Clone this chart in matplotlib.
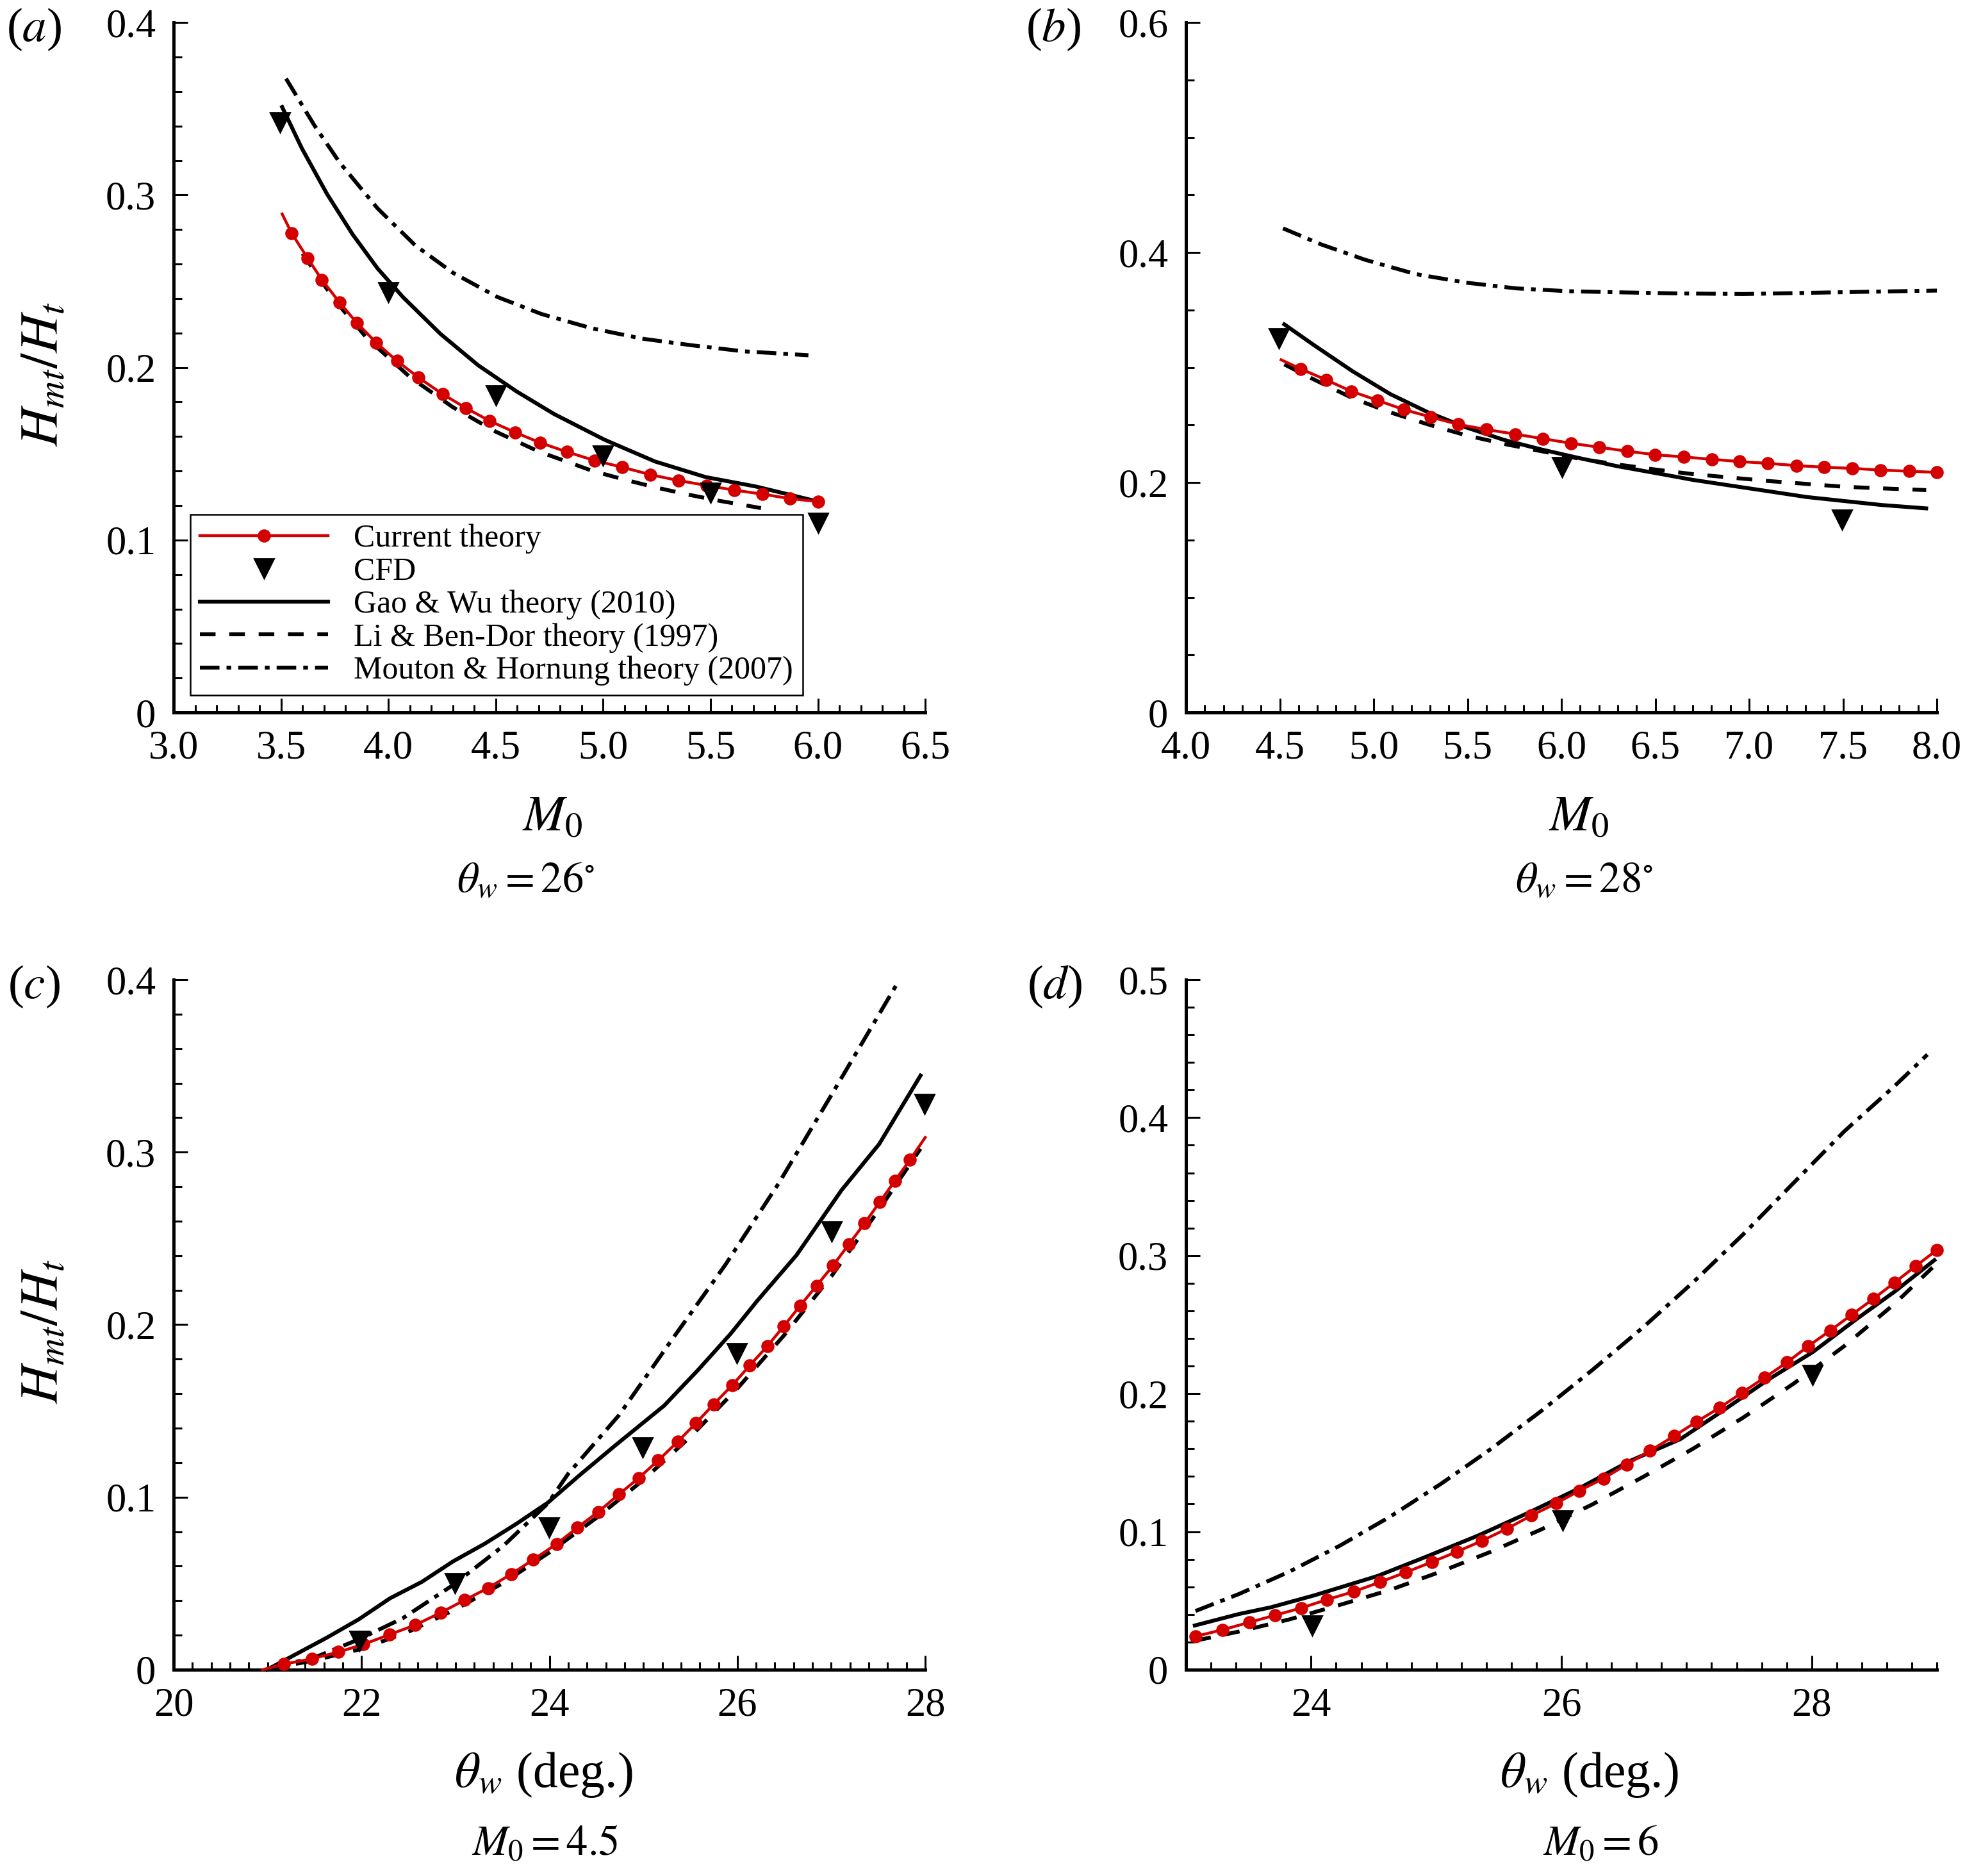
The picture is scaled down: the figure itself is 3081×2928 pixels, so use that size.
import numpy as np
import matplotlib
matplotlib.use('Agg')
import matplotlib.pyplot as plt
from matplotlib.ticker import MultipleLocator, AutoMinorLocator, FuncFormatter

plt.rcParams['font.family'] = 'serif'
plt.rcParams['font.serif'] = ['Liberation Serif', 'DejaVu Serif']
plt.rcParams['mathtext.fontset'] = 'stix'

# ---- panel (a): theta_w = 26 deg, H_mt/H_t vs M0
a_cur_M = [3.505, 3.55, 3.623, 3.69, 3.773, 3.852, 3.943, 4.04, 4.14, 4.252, 4.36, 4.472,
           4.59, 4.707, 4.831, 4.96, 5.089, 5.22, 5.35, 5.483, 5.612, 5.742, 5.871, 6.0]
a_cur_H = [0.289, 0.2777, 0.2635, 0.2509, 0.2376, 0.226, 0.2144, 0.2038, 0.1942, 0.1846, 0.1766, 0.169,
           0.1624, 0.1564, 0.1511, 0.1461, 0.1422, 0.1379, 0.1345, 0.1316, 0.1289, 0.1266, 0.124, 0.1223]
a_gw_M = [3.505, 3.597, 3.714, 3.832, 3.949, 4.067, 4.243, 4.419, 4.596, 4.772, 5.007, 5.242, 5.477, 5.712, 5.99]
a_gw_H = [0.351, 0.327, 0.3006, 0.2774, 0.2575, 0.2409, 0.2194, 0.2012, 0.1862, 0.173, 0.1581, 0.1455, 0.1365, 0.131, 0.1226]
a_lb_M = [3.6, 3.75, 3.9, 4.1, 4.3, 4.5, 4.7, 4.952, 5.1, 5.244, 5.393, 5.542, 5.735]
a_lb_H = [0.266, 0.239, 0.217, 0.1945, 0.177, 0.1628, 0.1513, 0.14, 0.135, 0.1305, 0.1264, 0.1227, 0.1185]
a_mh_M = [3.523, 3.655, 3.773, 3.949, 4.125, 4.302, 4.507, 4.713, 4.948, 5.183, 5.418, 5.653, 5.956]
a_mh_H = [0.3675, 0.3404, 0.3188, 0.2923, 0.2708, 0.2548, 0.2409, 0.231, 0.2227, 0.2167, 0.2128, 0.2094, 0.2071]
a_cfd_M = [3.494, 4.0, 4.5, 5.0, 5.5, 6.0]
a_cfd_H = [0.342, 0.2436, 0.184, 0.1488, 0.1276, 0.110]

# ---- panel (b): theta_w = 28 deg
b_cur_M = [4.507, 4.611, 4.746, 4.88, 5.021, 5.159, 5.303, 5.451, 5.599, 5.753, 5.901, 6.052, 6.2,
           6.351, 6.499, 6.65, 6.801, 6.949, 7.1, 7.251, 7.399, 7.55, 7.701, 7.852, 8.0]
b_cur_H = [0.3067, 0.2988, 0.2893, 0.2794, 0.2714, 0.2635, 0.257, 0.2505, 0.2461, 0.2421, 0.2381, 0.2341, 0.2307,
           0.2272, 0.2242, 0.2222, 0.2202, 0.2182, 0.2167, 0.2147, 0.2133, 0.2123, 0.2108, 0.2098, 0.2088]
b_gw_M = [4.524, 4.685, 4.887, 5.088, 5.29, 5.491, 5.693, 5.894, 6.096, 6.297, 6.499, 6.7, 6.902, 7.103,
          7.305, 7.506, 7.708, 7.943]
b_gw_H = [0.3375, 0.3191, 0.2968, 0.2769, 0.261, 0.248, 0.2371, 0.2287, 0.2212, 0.2142, 0.2083, 0.2023, 0.1973,
          0.1924, 0.1874, 0.1839, 0.1804, 0.1775]
b_lb_M = [4.524, 4.685, 4.887, 5.088, 5.29, 5.491, 5.693, 5.894, 6.096, 6.297, 6.499, 6.7, 6.902, 7.103,
          7.305, 7.506, 7.708, 7.943]
b_lb_H = [0.3027, 0.2893, 0.2734, 0.261, 0.2505, 0.2411, 0.2336, 0.2272, 0.2207, 0.2157, 0.2113, 0.2073, 0.2043,
          0.2013, 0.1988, 0.1963, 0.1949, 0.1934]
b_mh_M = [4.517, 4.719, 4.954, 5.222, 5.491, 5.76, 6.029, 6.297, 6.633, 6.969, 7.305, 7.641, 8.0]
b_mh_H = [0.421, 0.4071, 0.3937, 0.3813, 0.3738, 0.3688, 0.3664, 0.3654, 0.3644, 0.3639, 0.3649, 0.3659, 0.3669]
b_cfd_M = [4.494, 6.002, 7.496]
b_cfd_H = [0.3256, 0.2133, 0.1675]

# ---- panel (c): M0 = 4.5, H_mt/H_t vs theta_w
c_cur_t = [20.947, 21.175, 21.471, 21.753, 22.021, 22.297, 22.572, 22.841, 23.096, 23.345, 23.593, 23.828,
           24.077, 24.298, 24.52, 24.741, 24.95, 25.158, 25.366, 25.561, 25.749, 25.944, 26.132, 26.32,
           26.494, 26.669, 26.844, 27.018, 27.186, 27.354, 27.515, 27.676, 27.837, 28.0]
c_cur_H = [0.0, 0.0032, 0.0063, 0.0102, 0.0147, 0.0203, 0.0259, 0.033, 0.0403, 0.0473, 0.0554, 0.0638,
           0.0729, 0.0824, 0.0915, 0.1017, 0.1111, 0.1213, 0.1322, 0.143, 0.1539, 0.1648, 0.1763, 0.1876,
           0.1991, 0.211, 0.2226, 0.2342, 0.2465, 0.2587, 0.271, 0.2833, 0.2955, 0.3085]
c_gw_t = [20.994, 21.296, 21.632, 21.968, 22.304, 22.639, 22.975, 23.311, 23.647, 23.983, 24.34, 24.71,
          25.22, 25.585, 25.93, 26.21, 26.63, 27.11, 27.51, 27.95]
c_gw_H = [0.0, 0.0088, 0.0186, 0.0291, 0.0414, 0.0508, 0.0628, 0.073, 0.0845, 0.0968, 0.1136, 0.1304,
          0.153, 0.1739, 0.1948, 0.2137, 0.2403, 0.278, 0.3047, 0.3444]
c_lb_t = [20.994, 21.5, 22.0, 22.5, 23.0, 23.5, 24.0, 24.5, 25.0, 25.5, 26.0, 26.5, 27.0, 27.5, 27.95]
c_lb_H = [0.0, 0.0055, 0.012, 0.022, 0.035, 0.050, 0.068, 0.088, 0.110, 0.135, 0.163, 0.194, 0.228, 0.266, 0.302]
c_mh_t = [21.027, 21.498, 21.968, 22.438, 22.975, 23.512, 23.983, 24.2, 24.74, 25.3, 25.87, 26.44, 27.0, 27.71]
c_mh_H = [0.001, 0.007, 0.0175, 0.0298, 0.0491, 0.0719, 0.0964, 0.1136, 0.1475, 0.191, 0.2345, 0.2819, 0.333, 0.3985]
c_cfd_t = [21.98, 22.995, 23.996, 24.99, 25.997, 27.005, 27.992]
c_cfd_H = [0.0168, 0.0501, 0.0824, 0.1287, 0.1833, 0.2542, 0.3278]

# ---- panel (d): M0 = 6
d_cur_t = [23.076, 23.292, 23.504, 23.71, 23.922, 24.128, 24.34, 24.552, 24.758, 24.965, 25.166, 25.363,
           25.564, 25.761, 25.957, 26.144, 26.335, 26.521, 26.708, 26.899, 27.081, 27.262, 27.443, 27.625,
           27.801, 27.972, 28.149, 28.32, 28.491, 28.662, 28.829, 29.0]
d_cur_H = [0.0241, 0.0289, 0.0342, 0.0394, 0.0447, 0.0508, 0.0565, 0.0635, 0.0706, 0.078, 0.0855, 0.0933,
           0.1021, 0.1117, 0.1205, 0.1297, 0.1385, 0.1486, 0.1586, 0.1692, 0.1797, 0.1897, 0.2007, 0.2117,
           0.2226, 0.2344, 0.2458, 0.2572, 0.2686, 0.2805, 0.2923, 0.3041]
d_gw_t = [23.071, 23.423, 23.675, 24.028, 24.532, 24.935, 25.338, 25.741, 26.144, 26.547, 26.95, 27.302,
          27.655, 28.008, 28.36, 28.662, 28.98]
d_gw_H = [0.032, 0.0403, 0.0451, 0.0539, 0.0679, 0.0824, 0.0973, 0.1139, 0.1315, 0.1512, 0.167, 0.1884,
          0.2103, 0.2301, 0.2542, 0.2739, 0.2967]
d_lb_t = [23.076, 23.423, 23.826, 24.229, 24.632, 25.035, 25.438, 25.841, 26.244, 26.647, 27.05, 27.453,
          27.856, 28.259, 28.662, 28.965]
d_lb_H = [0.021, 0.0276, 0.0364, 0.0469, 0.0578, 0.071, 0.0855, 0.1017, 0.1196, 0.1394, 0.16, 0.1827,
          0.2073, 0.2344, 0.2651, 0.2914]
d_mh_t = [23.076, 23.423, 23.826, 24.229, 24.632, 25.035, 25.438, 25.841, 26.244, 26.647, 27.05, 27.453,
          27.856, 28.259, 28.662, 28.924]
d_mh_H = [0.0425, 0.0548, 0.071, 0.0898, 0.1109, 0.1345, 0.16, 0.1876, 0.2169, 0.2476, 0.2805, 0.3155,
          0.3528, 0.39, 0.4229, 0.4457]
d_cfd_t = [24.008, 26.008, 28.008]
d_cfd_H = [0.032, 0.1082, 0.2134]

labels = ['Current theory', 'CFD', 'Gao & Wu theory (2010)',
          'Li & Ben-Dor theory (1997)', 'Mouton & Hornung theory (2007)']

red = '#d40000'
lw_k = 2.2
fs_tick = 22.5
fs_lab = 28


def yfmt(v, pos):
    return '0' if abs(v) < 1e-9 else '%.1f' % v


def draw(ax, cur, gw, lb, mh, cfd, mark):
    l1, = ax.plot(cur[0], cur[1], color=red, lw=1.6, marker='o', ms=6.4,
                  markevery=mark, clip_on=False, zorder=5)
    l3, = ax.plot(gw[0], gw[1], color='k', lw=lw_k, ls='-', clip_on=False, zorder=3)
    l4, = ax.plot(lb[0], lb[1], color='k', lw=lw_k, ls=(0, (4.0, 3.5)), clip_on=False, zorder=3)
    l5, = ax.plot(mh[0], mh[1], color='k', lw=lw_k, ls=(0, (5.0, 1.8, 1.2, 1.8)), clip_on=False, zorder=3)
    l2, = ax.plot(cfd[0], cfd[1], ls='none', marker='v', ms=10.5, color='k', clip_on=False, zorder=6)
    return [l1, l2, l3, l4, l5]


def style(ax, xlim, ylim, xmaj, xminor, ymaj, yminor, xfmt):
    ax.set_xlim(*xlim)
    ax.set_ylim(*ylim)
    for s in ['top', 'right']:
        ax.spines[s].set_visible(False)
    for s in ['left', 'bottom']:
        ax.spines[s].set_linewidth(1.8)
    ax.xaxis.set_major_locator(MultipleLocator(xmaj))
    ax.xaxis.set_minor_locator(AutoMinorLocator(xminor))
    ax.yaxis.set_major_locator(MultipleLocator(ymaj))
    ax.yaxis.set_minor_locator(AutoMinorLocator(yminor))
    ax.xaxis.set_major_formatter(FuncFormatter(xfmt))
    ax.yaxis.set_major_formatter(FuncFormatter(yfmt))
    ax.tick_params(which='both', direction='in', top=False, right=False,
                   labelsize=fs_tick, pad=10, width=1.1)
    ax.tick_params(which='major', length=8)
    ax.tick_params(which='minor', length=4.5)


fig = plt.figure(figsize=(15.405, 14.64), dpi=200)
ax_a = fig.add_axes([0.088, 0.6202, 0.3807, 0.3678])
ax_b = fig.add_axes([0.6008, 0.6202, 0.3804, 0.3678])
ax_c = fig.add_axes([0.088, 0.110, 0.3807, 0.3678])
ax_d = fig.add_axes([0.6008, 0.110, 0.3804, 0.3678])

f1 = lambda v, p: '%.1f' % v
f0 = lambda v, p: '%d' % round(v)

h = draw(ax_a, (a_cur_M, a_cur_H), (a_gw_M, a_gw_H), (a_lb_M, a_lb_H), (a_mh_M, a_mh_H),
         (a_cfd_M, a_cfd_H), slice(1, None))
style(ax_a, (3.0, 6.5), (0, 0.4), 0.5, 5, 0.1, 5, f1)
draw(ax_b, (b_cur_M, b_cur_H), (b_gw_M, b_gw_H), (b_lb_M, b_lb_H), (b_mh_M, b_mh_H),
     (b_cfd_M, b_cfd_H), slice(1, None))
style(ax_b, (4.0, 8.0), (0, 0.6), 0.5, 5, 0.2, 4, f1)
draw(ax_c, (c_cur_t, c_cur_H), (c_gw_t, c_gw_H), (c_lb_t, c_lb_H), (c_mh_t, c_mh_H),
     (c_cfd_t, c_cfd_H), slice(1, -1))
style(ax_c, (20, 28), (0, 0.4), 2, 10, 0.1, 5, f0)
draw(ax_d, (d_cur_t, d_cur_H), (d_gw_t, d_gw_H), (d_lb_t, d_lb_H), (d_mh_t, d_mh_H),
     (d_cfd_t, d_cfd_H), None)
style(ax_d, (23, 29), (0, 0.5), 2, 10, 0.1, 5, f0)

leg = ax_a.legend(h, labels, loc='lower left', bbox_to_anchor=(0.022, 0.025), borderaxespad=0,
                  fontsize=18, numpoints=1, handlelength=4.0, handletextpad=0.8,
                  labelspacing=0.1, borderpad=0.3, fancybox=False, framealpha=1,
                  edgecolor='k')
leg.get_frame().set_linewidth(0.9)

for ax in [ax_a, ax_c]:
    ax.set_ylabel('$H_{mt}/H_t$', fontsize=30, va='center', ha='center')
    ax.yaxis.set_label_coords(-0.172, 0.49)

ax_a.set_xlabel('$M_0$', fontsize=fs_lab, va='center')
ax_a.xaxis.set_label_coords(0.504, -0.153)
ax_b.set_xlabel('$M_0$', fontsize=fs_lab, va='center')
ax_b.xaxis.set_label_coords(0.523, -0.153)
ax_c.set_xlabel(r'$\theta_w$ (deg.)', fontsize=fs_lab, va='center')
ax_c.xaxis.set_label_coords(0.492, -0.152)
ax_d.set_xlabel(r'$\theta_w$ (deg.)', fontsize=fs_lab, va='center')
ax_d.xaxis.set_label_coords(0.537, -0.152)

fs_sub = 24
ax_a.text(0.468, -0.245, r'$\theta_w = 26^{\circ}$', transform=ax_a.transAxes, ha='center', va='center', fontsize=fs_sub)
ax_b.text(0.53, -0.245, r'$\theta_w = 28^{\circ}$', transform=ax_b.transAxes, ha='center', va='center', fontsize=fs_sub)
ax_c.text(0.494, -0.2535, r'$M_0 = 4.5$', transform=ax_c.transAxes, ha='center', va='center', fontsize=fs_sub)
ax_d.text(0.552, -0.2535, r'$M_0 = 6$', transform=ax_d.transAxes, ha='center', va='center', fontsize=fs_sub)

for ax, s, x in [(ax_a, 'a', -0.186), (ax_b, 'b', -0.177), (ax_c, 'c', -0.186), (ax_d, 'd', -0.175)]:
    ax.text(x, 0.99, '($%s$)' % s, transform=ax.transAxes, ha='center', va='center', fontsize=27)

fig.savefig('out.png', dpi=200)
